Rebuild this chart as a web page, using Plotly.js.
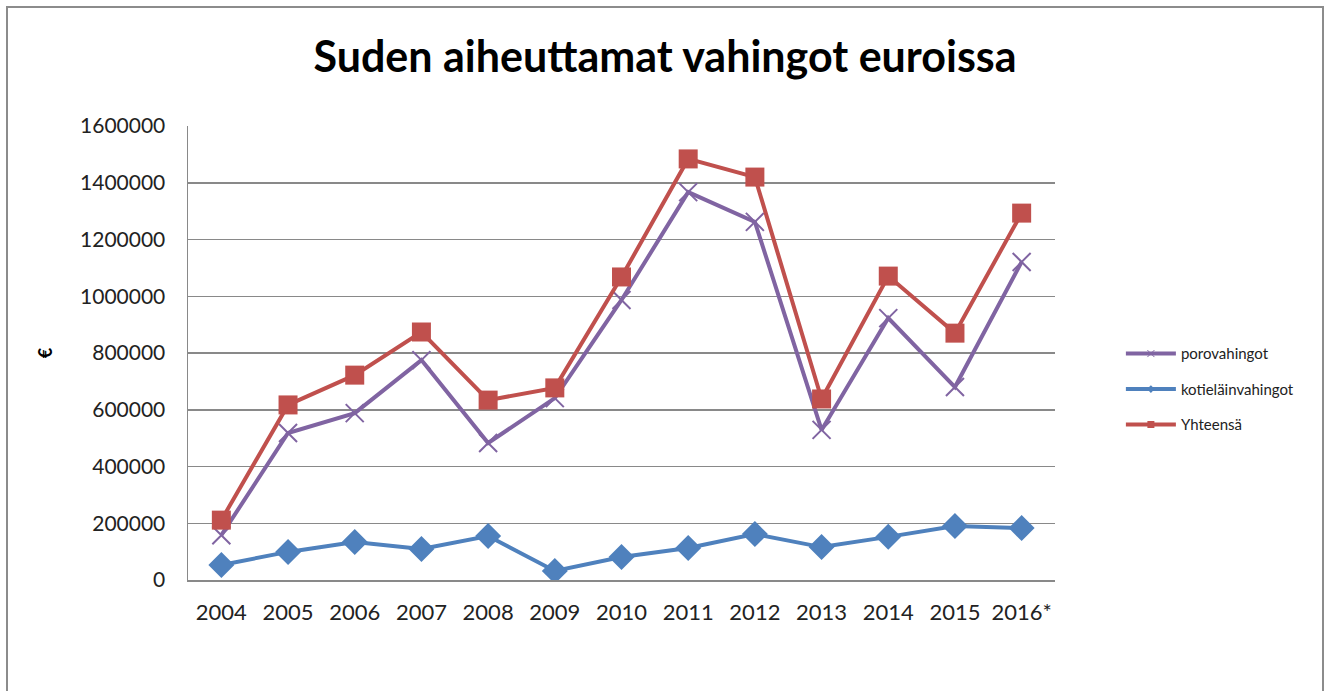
<!DOCTYPE html>
<html>
<head>
<meta charset="utf-8">
<script src="https://cdn.plot.ly/plotly-3.0.1.min.js"></script>
<style>
html,body{margin:0;padding:0;background:#fff;}
#chart{width:1330px;height:691px;}
#frame{position:absolute;left:6px;top:6px;width:1314px;height:700px;border:2px solid #8c8c8c;border-bottom:none;pointer-events:none;}
</style>
</head>
<body>
<div id="chart"></div>
<div id="frame"></div>
<script>
const years = ['2004','2005','2006','2007','2008','2009','2010','2011','2012','2013','2014','2015','2016*'];
const porovahingot = [158000, 518000, 588000, 775000, 483000, 641000, 987000, 1367000, 1262000, 529000, 923000, 680000, 1121000];
const kotielainvahingot = [53000, 99000, 134000, 109000, 155000, 32000, 81000, 113000, 162000, 116000, 152000, 190000, 183000];
const yhteensa = [211000, 617000, 722000, 874000, 634000, 677000, 1068000, 1484000, 1420000, 638000, 1071000, 870000, 1293000];
const yTicks = [0, 200000, 400000, 600000, 800000, 1000000, 1200000, 1400000, 1600000];

const PURPLE = '#8064A2', BLUE = '#4F81BD', RED = '#C0504D';

const traces = [
  {x: years, y: porovahingot, name: 'porovahingot', type: 'scatter', mode: 'lines+markers', showlegend: false,
   line: {color: PURPLE, width: 4}, marker: {symbol: 'x-thin-open', size: 18, color: PURPLE, line: {color: PURPLE, width: 2}}},
  {x: years, y: kotielainvahingot, name: 'kotieläinvahingot', type: 'scatter', mode: 'lines+markers', showlegend: false,
   line: {color: BLUE, width: 4}, marker: {symbol: 'diamond', size: 20, color: BLUE}},
  {x: years, y: yhteensa, name: 'Yhteensä', type: 'scatter', mode: 'lines+markers', showlegend: false,
   line: {color: RED, width: 4}, marker: {symbol: 'square', size: 19, color: RED}},
  // legend entries (small markers as in the reference legend)
  {x: [null], y: [null], name: 'porovahingot', type: 'scatter', mode: 'lines+markers', legendgroup: 'a',
   line: {color: PURPLE, width: 4}, marker: {symbol: 'x-thin-open', size: 7, color: PURPLE, line: {color: PURPLE, width: 1}}},
  {x: [null], y: [null], name: 'kotieläinvahingot', type: 'scatter', mode: 'lines+markers', legendgroup: 'b',
   line: {color: BLUE, width: 4}, marker: {symbol: 'diamond', size: 6, color: BLUE}},
  {x: [null], y: [null], name: 'Yhteensä', type: 'scatter', mode: 'lines+markers', legendgroup: 'c',
   line: {color: RED, width: 4}, marker: {symbol: 'square', size: 7, color: RED}}
];

const layout = {
  width: 1330, height: 691,
  margin: {l: 188, r: 275, t: 126, b: 111},
  paper_bgcolor: '#fff', plot_bgcolor: '#fff',
  font: {family: 'Lato, "Open Sans", sans-serif', color: '#222'},
  title: {text: '<b>Suden aiheuttamat vahingot euroissa</b>', font: {family: 'Lato, sans-serif', size: 43, color: '#000'},
          x: 0.5, xanchor: 'center', xref: 'container', y: 1 - 57/691, yref: 'container', yanchor: 'middle'},
  showlegend: true,
  legend: {x: 1.076, xanchor: 'left', y: 0.42, yanchor: 'middle', font: {size: 15, color: '#222'},
           traceorder: 'grouped', tracegroupgap: 13, itemwidth: 50, bgcolor: 'rgba(0,0,0,0)'},
  xaxis: {type: 'category', range: [-0.5, 12.5], showgrid: false, showline: true, linecolor: '#898989', linewidth: 1.5,
          ticks: '', tickfont: {size: 22, color: '#222'}, ticklabelstandoff: 12, fixedrange: true},
  yaxis: {range: [0, 1600000], tickvals: yTicks, ticktext: yTicks.map(String), showgrid: true, gridcolor: '#898989', gridwidth: 1.5,
          showline: true, linecolor: '#898989', linewidth: 1.5, zeroline: false, ticks: '',
          tickfont: {size: 21, color: '#222'}, ticklabelstandoff: 17,
          title: {text: '<b>€</b>', font: {size: 18, color: '#000'}, standoff: 22}, fixedrange: true}
};

Plotly.newPlot('chart', traces, layout, {displayModeBar: false, staticPlot: true});
</script>
</body>
</html>
